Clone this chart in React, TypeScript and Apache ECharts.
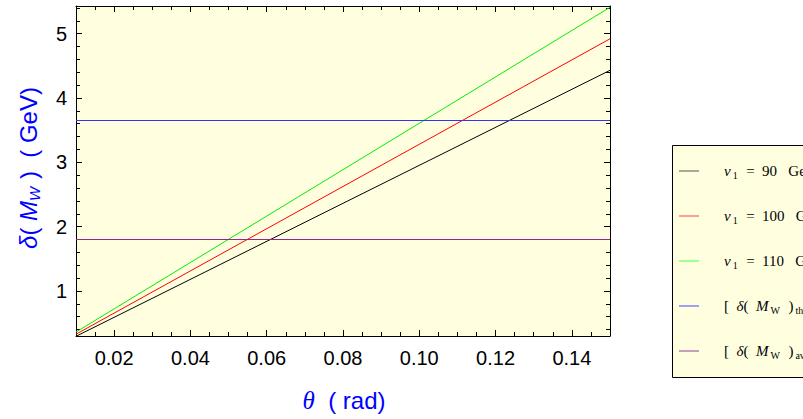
import React, { useEffect, useRef } from "react";
import * as echarts from "echarts";

// ---- data ----
const thetaRange = [0.01, 0.15];
const deltaV90 = [0.295, 4.43];
const deltaV100 = [0.328, 4.92];
const deltaV110 = [0.361, 5.41];
const deltaTheory = [3.65, 3.65];
const deltaAverage = [1.8, 1.8];

const seriesNames = ["v1 = 90 GeV", "v1 = 100 GeV", "v1 = 110 GeV", "[δ(M_W)]_th", "[δ(M_W)]_av"];
const seriesColors = ["#000000", "#ff0000", "#00ee00", "#3333ff", "#99258a"];
const legendColors = ["#707070", "#ff6060", "#60ff60", "#6060ff", "#a060a0"];
const legendTexts = [
  "{v|v}{s|1}{n|  =  90   GeV}",
  "{v|v}{s|1}{n|  =  100   GeV}",
  "{v|v}{s|1}{n|  =  110   GeV}",
  "{n|[  }{i|δ}{n|(  }{i|M}{s|W}{n|  )}{s|th}{n| ]}",
  "{n|[  }{i|δ}{n|(  }{i|M}{s|W}{n|  )}{s|av}{n| ]}",
];

const xMajorTicks = [0.02, 0.04, 0.06, 0.08, 0.1, 0.12, 0.14];
const xMinorTicks = [0.015, 0.025, 0.03, 0.035, 0.045, 0.05, 0.055, 0.065, 0.07, 0.075, 0.085, 0.09, 0.095, 0.105, 0.11, 0.115, 0.125, 0.13, 0.135, 0.145];
const yMajorTicks = [1, 2, 3, 4, 5];
const yMinorTicks = [0.4, 0.6, 0.8, 1.2, 1.4, 1.6, 1.8, 2.2, 2.4, 2.6, 2.8, 3.2, 3.4, 3.6, 3.8, 4.2, 4.4, 4.6, 4.8, 5.2, 5.4];

const X_MIN = 0.01;
const X_MAX = 0.15;
const Y_MIN = 0.3;
const Y_MAX = 5.43;

const SANS = "'Liberation Sans', Arial, Helvetica, sans-serif";
const SERIF = "'Liberation Serif', 'Times New Roman', serif";

function makeAxis(kind: "x" | "y", position: string, ticks: number[], len: number, labels: boolean, line: boolean) {
  const base: any = {
    type: "value",
    position,
    min: kind === "x" ? X_MIN : Y_MIN,
    max: kind === "x" ? X_MAX : Y_MAX,
    splitLine: { show: false },
    axisLine: { show: line, onZero: false, lineStyle: { color: "#000", width: 1 } },
    axisTick: { show: true, inside: true, length: len, customValues: ticks, lineStyle: { color: "#000", width: 1 } },
    axisLabel: labels
      ? {
          show: true,
          customValues: ticks,
          fontSize: 20,
          fontFamily: SANS,
          color: "#000",
          margin: kind === "x" ? 12 : 9,
          formatter: (v: number) => (kind === "x" ? v.toFixed(2) : String(Math.round(v))),
        }
      : { show: false },
  };
  return base;
}

export default function App() {
  const ref = useRef<HTMLDivElement>(null);
  useEffect(() => {
    if (!ref.current) return;
    const chart = echarts.init(ref.current, undefined, { renderer: "svg" });
    const lines = [deltaV90, deltaV100, deltaV110, deltaTheory, deltaAverage];
    const legendYs = [171, 216, 261, 306, 351];
    const richLegend: any = {
      n: { fontFamily: SERIF, fontSize: 15, fill: "#000" },
      v: { fontFamily: SERIF, fontSize: 15, fontStyle: "italic", fill: "#000" },
      i: { fontFamily: SERIF, fontSize: 15, fontStyle: "italic", fill: "#000" },
      s: { fontFamily: SERIF, fontSize: 10, fill: "#000", padding: [8, 1, 0, 2] },
    };
    const legendChildren: any[] = [
      {
        type: "rect",
        shape: { x: 672.5, y: 145.5, width: 200, height: 232 },
        style: { fill: "#ffffe0", stroke: "#000", lineWidth: 1 },
      },
    ];
    legendYs.forEach((y, k) => {
      legendChildren.push({
        type: "line",
        shape: { x1: 679, y1: y, x2: 699, y2: y },
        style: { stroke: legendColors[k], lineWidth: 1.2 },
      });
      legendChildren.push({
        type: "text",
        x: 724,
        y,
        style: {
          text: legendTexts[k],
          rich: richLegend,
          verticalAlign: "middle",
          align: "left",
        },
      });
    });

    chart.setOption({
      animation: false,
      backgroundColor: "#ffffff",
      grid: { left: 76, right: 193, top: 6, bottom: 83, show: true, backgroundColor: "#ffffe0", borderWidth: 0 },
      xAxis: [
        makeAxis("x", "bottom", xMajorTicks, 6, true, true),
        makeAxis("x", "bottom", xMinorTicks, 4, false, false),
        makeAxis("x", "top", xMajorTicks, 6, false, true),
        makeAxis("x", "top", xMinorTicks, 4, false, false),
      ],
      yAxis: [
        makeAxis("y", "left", yMajorTicks, 6, true, true),
        makeAxis("y", "left", yMinorTicks, 4, false, false),
        makeAxis("y", "right", yMajorTicks, 6, false, true),
        makeAxis("y", "right", yMinorTicks, 4, false, false),
      ],
      series: lines.map((vals, k) => ({
        name: seriesNames[k],
        type: "line",
        xAxisIndex: 0,
        yAxisIndex: 0,
        showSymbol: false,
        symbol: "none",
        data: thetaRange.map((t, j) => [t, vals[j]]),
        lineStyle: { color: seriesColors[k], width: 1 },
        itemStyle: { color: seriesColors[k] },
        z: 3,
      })),
      graphic: [
        {
          type: "text",
          x: 344,
          y: 400,
          style: {
            text: "{t|θ}{n|  ( rad)}",
            align: "center",
            verticalAlign: "middle",
            rich: {
              t: { fontFamily: SERIF, fontStyle: "italic", fontSize: 25, fill: "#0000ff" },
              n: { fontFamily: SANS, fontSize: 24, fill: "#0000ff" },
            },
          },
        },
        {
          type: "text",
          x: 28,
          y: 168,
          rotation: Math.PI / 2,
          style: {
            text: "{i|δ}{n|( }{i|M}{s|W}{n| )  ( GeV)}",
            align: "center",
            verticalAlign: "middle",
            rich: {
              i: { fontFamily: SANS, fontStyle: "italic", fontSize: 24, fill: "#0000ff" },
              n: { fontFamily: SANS, fontSize: 24, fill: "#0000ff" },
              s: { fontFamily: SANS, fontStyle: "italic", fontSize: 15, fill: "#0000ff", padding: [12, 1, 0, 0] },
            },
          },
        },
        { type: "group", children: legendChildren },
      ],
    });
    return () => chart.dispose();
  }, []);
  return <div ref={ref} style={{ position: "fixed", left: 0, top: 0, width: 803, height: 419 }} />;
}
